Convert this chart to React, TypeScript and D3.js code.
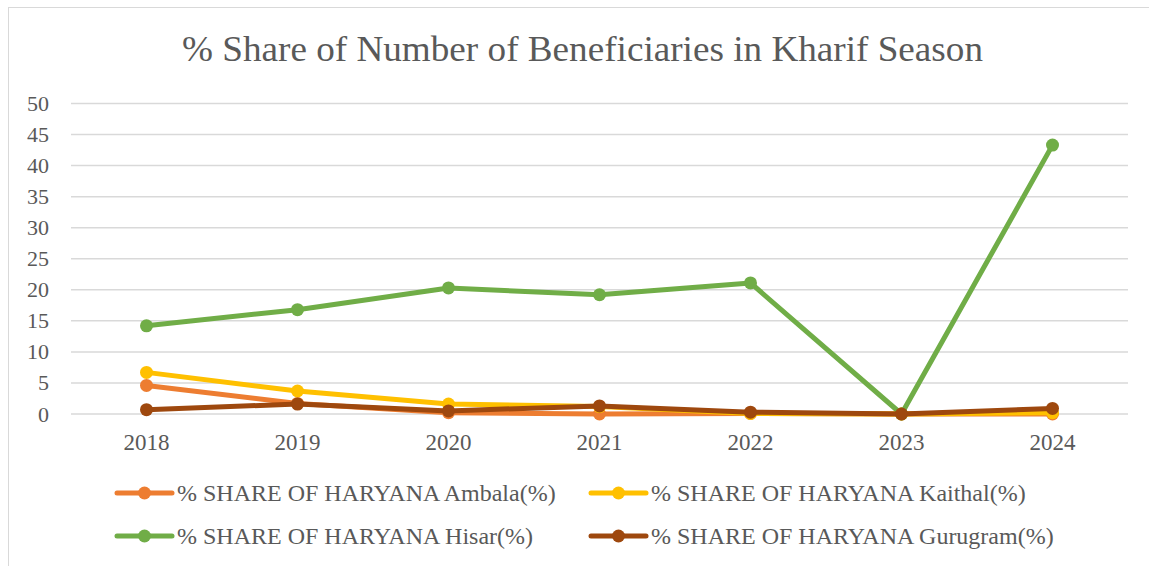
import React from "react";
import * as d3 from "d3";

const years = ["2018", "2019", "2020", "2021", "2022", "2023", "2024"];
const ambala = [4.6, 1.7, 0.2, 0.0, 0.1, 0.0, 0.0];
const kaithal = [6.7, 3.7, 1.6, 1.2, 0.1, 0.0, 0.2];
const hisar = [14.2, 16.8, 20.3, 19.2, 21.1, 0.0, 43.3];
const gurugram = [0.7, 1.6, 0.5, 1.3, 0.3, 0.0, 0.9];
const yTicks = [0, 5, 10, 15, 20, 25, 30, 35, 40, 45, 50];
const title = "% Share of Number of Beneficiaries in Kharif Season";

const series = [
  { name: "% SHARE OF HARYANA Ambala(%)", values: ambala, color: "#ED7D31" },
  { name: "% SHARE OF HARYANA Kaithal(%)", values: kaithal, color: "#FFC000" },
  { name: "% SHARE OF HARYANA Hisar(%)", values: hisar, color: "#70AD47" },
  { name: "% SHARE OF HARYANA Gurugram(%)", values: gurugram, color: "#9E480E" },
];

const font = "Liberation Serif";

export default function App() {
  const W = 1149, H = 566;
  const left = 71, right = 1128, top = 103.5, bottom = 414;
  const x = d3.scalePoint<string>().domain(years).range([left, right]).padding(0.5);
  const y = d3.scaleLinear().domain([0, 50]).range([bottom, top]);
  const line = d3.line<number>().x((_, i) => x(years[i]) as number).y((d) => y(d));
  const ts = { fontFamily: font };
  const legendPos = [
    { lx: 117, ly: 493 },
    { lx: 591, ly: 493 },
    { lx: 117, ly: 536 },
    { lx: 591, ly: 536 },
  ];
  return (
    <svg width={W} height={H} style={{ position: "absolute", left: 0, top: 0, background: "#fff" }}>
      <rect x={8.5} y={7.5} width={W + 10} height={H + 10} fill="#fff" stroke="#d9d9d9" strokeWidth={1} />
      <text x={582.5} y={61} textAnchor="middle" fontSize={36} fill="#595959" style={ts}
        textLength={801} lengthAdjust="spacingAndGlyphs">{title}</text>
      {yTicks.map((t) => (
        <g key={t}>
          <line x1={left} x2={right} y1={y(t)} y2={y(t)} stroke="#d9d9d9" strokeWidth={1.5} />
          <text x={49} y={y(t) + 7.5} textAnchor="end" fontSize={22} fill="#595959" style={ts}>{t}</text>
        </g>
      ))}
      {years.map((yr) => (
        <text key={yr} x={x(yr)} y={450} textAnchor="middle" fontSize={23} fill="#595959" style={ts}>{yr}</text>
      ))}
      {series.map((s) => (
        <g key={s.name}>
          <path d={line(s.values) || ""} fill="none" stroke={s.color} strokeWidth={5} strokeLinejoin="round" strokeLinecap="round" />
          {s.values.map((v, i) => (
            <circle key={i} cx={x(years[i])} cy={y(v)} r={6.5} fill={s.color} />
          ))}
        </g>
      ))}
      {series.map((s, i) => {
        const { lx, ly } = legendPos[i];
        return (
          <g key={"lg" + i}>
            <line x1={lx} x2={lx + 55} y1={ly} y2={ly} stroke={s.color} strokeWidth={5} strokeLinecap="round" />
            <circle cx={lx + 27.5} cy={ly} r={6.5} fill={s.color} />
            <text x={lx + 60} y={ly + 8} fontSize={24} fill="#595959" style={ts}>{s.name}</text>
          </g>
        );
      })}
    </svg>
  );
}
